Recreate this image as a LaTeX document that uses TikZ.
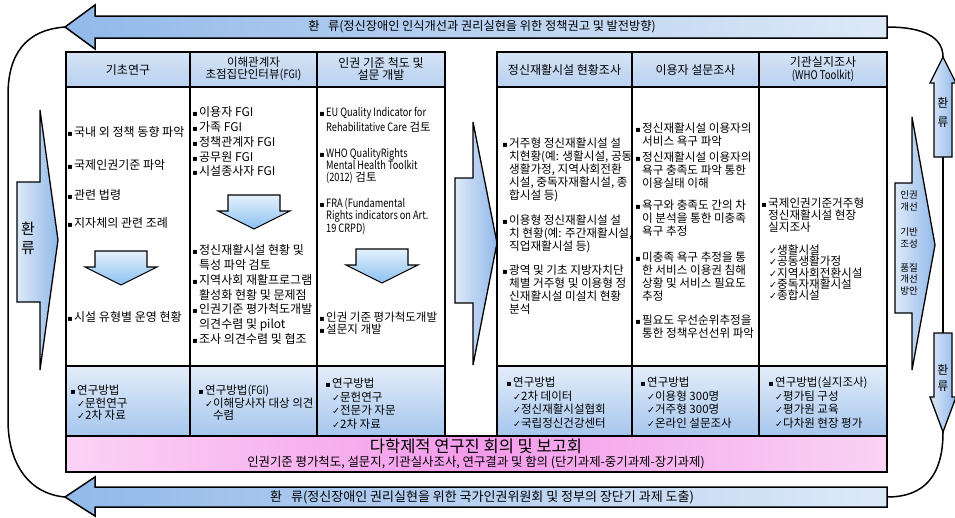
\documentclass[tikz,border=0pt]{standalone}
\usepackage{fontspec}
\setmainfont{Noto Sans CJK KR}
\newfontfamily\symf{DejaVu Sans}
\newfontfamily\narrowf[FakeStretch=0.8]{Noto Sans CJK KR}
\newcommand\bu{\llap{{\symf\fontsize{8}{8}\selectfont ▪}\hspace{1.5pt}}}
\newcommand\ck{{\symf\fontsize{9.5}{9}\selectfont ✓}}
\newcommand\en[1]{{\narrowf #1}}
\definecolor{hdtop}{HTML}{D6E4F6}
\definecolor{hdbot}{HTML}{B8D0F0}
\definecolor{mtop}{HTML}{E3EDF9}
\definecolor{mbot}{HTML}{A6C6EE}
\definecolor{adark}{HTML}{92B9EA}
\definecolor{alight}{HTML}{DDE9F8}
\definecolor{pinkL}{HTML}{FBD3F5}
\definecolor{pinkM}{HTML}{F49BEB}
\definecolor{pinkR}{HTML}{F9D3F4}
\definecolor{catop}{HTML}{E4F1FC}
\definecolor{cabot}{HTML}{8CC0F0}
\tikzset{
  tbl/.style={draw=black, line width=1.8pt},
  conn/.style={draw=black, line width=1.5pt},
  harrow/.style={draw=black, line width=1.5pt, left color=adark, right color=alight},
  rarrow/.style={draw=black, line width=1.3pt, left color=alight, right color=adark},
  hd/.style={font=\fontsize{12}{12.5}\selectfont, align=center, inner sep=0pt},
  ba/.style={font=\fontsize{12}{14.8}\selectfont, anchor=north west, align=left, inner sep=0pt, yshift=5.5pt},
  cthree/.style={font=\fontsize{11.5}{12.3}\selectfont, anchor=north west, align=left, inner sep=0pt, yshift=5.2pt},
  rb/.style={font=\fontsize{11.6}{13}\selectfont, anchor=north west, align=left, inner sep=0pt, yshift=5.2pt},
  mt/.style={font=\fontsize{11.5}{13.5}\selectfont, anchor=north west, align=left, inner sep=0pt, yshift=5.2pt},
  side/.style={align=center, inner sep=0pt},
  downar/.pic={\path[draw=black, line width=1.1pt, top color=catop, bottom color=cabot]
     (-26,0) -- (26,0) -- (26,16) -- (36,16) -- (0,34) -- (-36,16) -- (-26,16) -- cycle;}
}
\begin{document}
\begin{tikzpicture}[x=1pt,y=-1pt]
\useasboundingbox (0,0) rectangle (955,517);
% named end points of connectors
\coordinate (tTip) at (65,27);
\coordinate (bTip) at (65,497);
\coordinate (tEnd) at (887,27);
\coordinate (bEnd) at (887,497);
\coordinate (upTip) at (943,57);
\coordinate (upBot) at (943,157);
\coordinate (dnTop) at (943,333);
\coordinate (dnTip) at (943,432);
% connectors
\draw[conn] (tTip) .. controls (25,30) and (8,55) .. (8,95) -- (8,420) .. controls (8,465) and (30,494) .. (bTip);
\draw[conn] (tEnd) .. controls (925,27) and (943,38) .. (upTip);
\draw[conn] (upBot) -- (dnTop);
\draw[conn] (dnTip) .. controls (943,475) and (925,497) .. (bEnd);
% big horizontal arrows
\path[harrow] (tTip) -- (95,5) -- (95,16) -- (887,16) -- (887,38) -- (95,38) -- (95,49) -- cycle;
\path[harrow] (bTip) -- (95,477) -- (95,487) -- (887,487) -- (887,507) -- (95,507) -- (95,516) -- cycle;
\node[font=\fontsize{12.2}{13}\selectfont, inner sep=0pt] (ttext) at (482,27) {환\hspace{0.7em}류(정신장애인 인식개선과 권리실현을 위한 정책권고 및 발전방향)};
\node[font=\fontsize{13}{13}\selectfont, inner sep=0pt] (btext) at (482,497) {환\hspace{0.7em}류(정신장애인 권리실현을 위한 국가인권위원회 및 정부의 장단기 과제 도출)};
% left feedback arrow
\path[rarrow] (17,182) -- (40,182) -- (40,110) -- (58,240) -- (40,370) -- (40,302) -- (17,302) -- cycle;
\node[side, font=\fontsize{15}{19}\selectfont] (lfb) at (28,238) {환\\류};
% middle arrow
\path[rarrow] (455,178) -- (473,178) -- (473,122) -- (497,243) -- (473,365) -- (473,303) -- (455,303) -- cycle;
% right arrow
\path[rarrow] (895,183) -- (912,183) -- (912,117) -- (935,245) -- (912,370) -- (912,313) -- (895,313) -- cycle;
\node[side, font=\fontsize{9.5}{11.5}\selectfont] (ra1) at (909,201) {인권\\개선};
\node[side, font=\fontsize{9.5}{11.5}\selectfont] (ra2) at (909,238) {기반\\조성};
\node[side, font=\fontsize{9.5}{11.5}\selectfont] (ra3) at (909,279) {품질\\개선\\방안};
% up and down arrows
\path[rarrow] (upTip) -- (956,83) -- (952,83) -- (952,157) -- (934,157) -- (934,83) -- (930,83) -- cycle;
\node[side, font=\fontsize{12}{19}\selectfont] (upt) at (943,112) {환\\류};
\path[rarrow] (dnTop) -- (952,333) -- (952,397) -- (956,397) -- (dnTip) -- (930,397) -- (934,397) -- (934,333) -- cycle;
\node[side, font=\fontsize{12}{16}\selectfont] (dnt) at (943,378) {환\\류};
% table fills
\shade[top color=hdtop, bottom color=hdbot] (66,52) rectangle (445,87);
\shade[top color=hdtop, bottom color=hdbot] (497,52) rectangle (887,87);
\fill[white] (66,87) rectangle (445,366);
\fill[white] (497,87) rectangle (887,366);
\shade[top color=mtop, bottom color=mbot] (66,366) rectangle (445,436);
\shade[top color=mtop, bottom color=mbot] (497,366) rectangle (887,436);
\shade[left color=pinkL, right color=pinkR, middle color=pinkM] (66,436) rectangle (887,472);
% table lines
\draw[tbl] (66,52) rectangle (445,436);
\draw[tbl] (497,52) rectangle (887,436);
\draw[tbl] (66,436) rectangle (887,472);
\draw[tbl] (190,52) -- (190,436) (317,52) -- (317,436);
\draw[tbl] (632,52) -- (632,436) (759,52) -- (759,436);
\draw[tbl] (66,87) -- (445,87) (66,366) -- (445,366);
\draw[tbl] (497,87) -- (887,87) (497,366) -- (887,366);
% headers
\node[hd] (h1) at (128,70) {기초연구};
\node[hd, font=\fontsize{11.5}{12.5}\selectfont] (h2) at (253.5,69) {이해관계자\\초점집단인터뷰(\en{FGI})};
\node[hd] (h3) at (381,69) {인권 기준 척도 및\\설문 개발};
\node[hd] (h4) at (564.5,70) {정신재활시설 현황조사};
\node[hd] (h5) at (695.5,70) {이용자 설문조사};
\node[hd] (h6) at (823,69) {기관실지조사\\\en{(WHO Toolkit)}};
% column 1
\node[ba] (a1) at (74,132) {\bu 국내 외 정책 동향 파악};
\node[ba] (a2) at (74,165) {\bu 국제인권기준 파악};
\node[ba] (a3) at (74,195) {\bu 관련 법령};
\node[ba] (a4) at (74,223) {\bu 지자체의 관련 조례};
\pic at (121,251) {downar};
\node[ba] (a5) at (74,317) {\bu 시설 유형별 운영 현황};
% column 2
\node[ba] (b1) at (199,112) {\bu 이용자 FGI\\\bu 가족 FGI\\\bu 정책관계자 FGI\\\bu 공무원 FGI\\\bu 시설종사자 FGI};
\pic at (254,195) {downar};
\node[ba] (b2) at (199,250) {\bu 정신재활시설 현황 및\\특성 파악 검토\\\bu 지역사회 재활프로그램\\활성화 현황 및 문제점\\\bu 인권기준 평가척도개발\\의견수렴 및 pilot\\\bu 조사 의견수렴 및 협조};
% column 3
\node[cthree, font=\fontsize{11.5}{15}\selectfont] (c1) at (326,112) {\bu \en{EU Quality Indicator for}\\\en{Rehabilitative Care} 검토};
\node[cthree] (c2) at (326,153) {\bu \en{WHO QualityRights}\\\en{Mental Health Toolkit}\\\en{(2012)} 검토};
\node[cthree] (c3) at (326,203) {\bu \en{FRA (Fundamental}\\\en{Rights indicators on Art.}\\\en{19 CRPD)}};
\pic at (382,249) {downar};
\node[cthree, font=\fontsize{11.5}{11.5}\selectfont] (c4) at (326,317) {\bu 인권 기준 평가척도개발\\\bu 설문지 개발};
% column 4
\node[rb] (d1) at (509,143) {\bu 거주형 정신재활시설 설\\치현황(예: 생활시설, 공동\\생활가정, 지역사회전환\\시설, 중독자재활시설, 종\\합시설 등)};
\node[rb] (d2) at (509,220) {\bu 이용형 정신재활시설 설\\치 현황(예: 주간재활시설,\\직업재활시설 등)};
\node[rb] (d3) at (509,270) {\bu 광역 및 기초 지방자치단\\체별 거주형 및 이용형 정\\신재활시설 미설치 현황\\분석};
% column 5
\node[rb] (e1) at (642,128) {\bu 정신재활시설 이용자의\\서비스 욕구 파악};
\node[rb] (e2) at (642,157) {\bu 정신재활시설 이용자의\\욕구 충족도 파악 통한\\이용실태 이해};
\node[rb] (e3) at (642,205) {\bu 욕구와 충족도 간의 차\\이 분석을 통한 미충족\\욕구 추정};
\node[rb] (e4) at (642,257) {\bu 미충족 욕구 추정을 통\\한 서비스 이용권 침해\\상황 및 서비스 필요도\\추정};
\node[rb] (e5) at (642,320) {\bu 필요도 우선순위추정을\\통한 정책우선선위 파악};
% column 6
\node[rb, font=\fontsize{11.6}{12}\selectfont] (f1) at (768,203) {\bu 국제인권기준거주형\\정신재활시설 현장\\실지조사};
\node[rb, font=\fontsize{11.6}{11.2}\selectfont] (f2) at (769,250) {\ck{}생활시설\\\ck{}공동생활가정\\\ck{}지역사회전환시설\\\ck{}중독자재활시설\\\ck{}종합시설};
% method rows
\node[mt, font=\fontsize{11.5}{12.5}\selectfont] (m1) at (77,390) {\bu 연구방법\\\ck{}문헌연구\\\ck{}2차 자료};
\node[mt, font=\fontsize{11.5}{12.5}\selectfont] (m2) at (205,390) {\bu 연구방법(\en{FGI})\\\ck{}이해당사자 대상 의견\\\phantom{\ck}수렴};
\node[mt] (m3) at (332,383) {\bu 연구방법\\\ck{}문헌연구\\\ck{}전문가 자문\\\ck{}2차 자료};
\node[mt] (m4) at (513,382) {\bu 연구방법\\\ck{}2차 데이터\\\ck{}정신재활시설협회\\\ck{}국립정신건강센터};
\node[mt] (m5) at (647,382) {\bu 연구방법\\\ck{}이용형 300명\\\ck{}거주형 300명\\\ck{}온라인 설문조사};
\node[mt] (m6) at (775,382) {\bu 연구방법(실지조사)\\\ck{}평가팀 구성\\\ck{}평가원 교육\\\ck{}다차원 현장 평가};
% pink row
\node[font=\fontsize{16.5}{17}\selectfont, inner sep=0pt] (p1) at (476,446) {다학제적 연구진 회의 및 보고회};
\node[font=\fontsize{12.4}{13}\selectfont, inner sep=0pt] (p2) at (476,463) {인권기준 평가척도, 설문지, 기관실사조사, 연구결과 및 함의 (단기과제-중기과제-장기과제)};
\end{tikzpicture}
\end{document}
